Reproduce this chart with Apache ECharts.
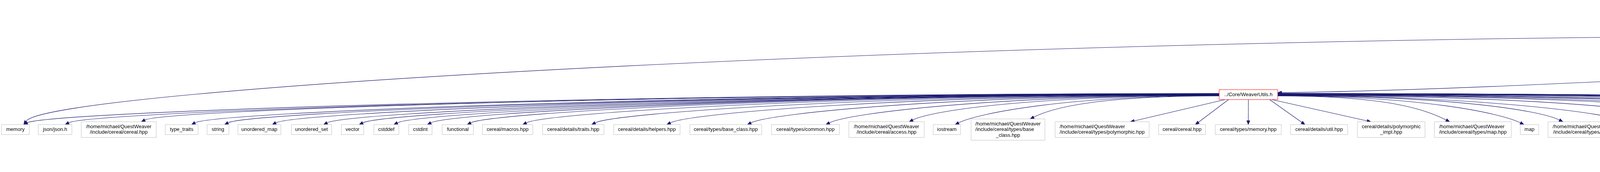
<!DOCTYPE html>
<html>
<head>
<meta charset="utf-8">
<title>WorldListener.h include graph</title>
<script src="https://cdn.jsdelivr.net/npm/echarts@6/dist/echarts.min.js"></script>
<style>
html, body { margin: 0; padding: 0; background: #ffffff; }
#graph { width: 6899px; height: 440px; }
</style>
</head>
<body>
<div id="graph"></div>
<script>
// ---- graph data: files per level, in drawing order ----
let levelNodes = [
	['include/World/WorldListener.h'],
	['WorldModelAction.h'],
	['MetaData.h', 'WorldEntity.h'],
	['../Core/WeaverUtils.h', 'cereal.h'],
	[
		'memory',
		'json/json.h',
		'/home/michael/QuestWeaver\n/include/cereal/cereal.hpp',
		'type_traits',
		'string',
		'unordered_map',
		'unordered_set',
		'vector',
		'cstddef',
		'cstdint',
		'functional',
		'cereal/macros.hpp',
		'cereal/details/traits.hpp',
		'cereal/details/helpers.hpp',
		'cereal/types/base_class.hpp',
		'cereal/types/common.hpp',
		'/home/michael/QuestWeaver\n/include/cereal/access.hpp',
		'iostream',
		'/home/michael/QuestWeaver\n/include/cereal/types/base\n_class.hpp',
		'/home/michael/QuestWeaver\n/include/cereal/types/polymorphic.hpp',
		'cereal/cereal.hpp',
		'cereal/types/memory.hpp',
		'cereal/details/util.hpp',
		'cereal/details/polymorphic\n_impl.hpp',
		'/home/michael/QuestWeaver\n/include/cereal/types/map.hpp',
		'map',
		'/home/michael/QuestWeaver\n/include/cereal/types/set.hpp',
		'set',
		'/home/michael/QuestWeaver\n/include/cereal/types/unordered\n_map.hpp',
		'/home/michael/QuestWeaver\n/include/cereal/types/unordered\n_set.hpp',
		'/home/michael/QuestWeaver\n/include/cereal/types/vector.hpp',
		'/home/michael/QuestWeaver\n/include/cereal/types/memory.hpp',
		'cstring',
		'/home/michael/QuestWeaver\n/include/cereal/types/string.hpp',
		'/home/michael/QuestWeaver\n/include/cereal/archives\n/json.hpp',
		'cereal/external/rapidjson\n/prettywriter.h',
		'cereal/external/rapidjson\n/genericstream.h',
		'cereal/external/rapidjson\n/reader.h',
		'cereal/external/rapidjson\n/document.h',
		'cereal/external/base64.hpp',
		'limits',
		'../Core/WeaverTypes.h'
	],
	['random', '../cereal.h']
];

// include edges [from, to]
let directIncludes = [
	['include/World/WorldListener.h', 'WorldModelAction.h'],
	['WorldModelAction.h', 'memory'],
	['WorldModelAction.h', 'MetaData.h'],
	['WorldModelAction.h', 'cereal.h'],
	['WorldModelAction.h', 'WorldEntity.h'],
	['MetaData.h', '../Core/WeaverUtils.h'],
	['MetaData.h', 'cereal.h'],
	['MetaData.h', '../Core/WeaverTypes.h'],
	['WorldEntity.h', 'cereal.h'],
	['WorldEntity.h', '../Core/WeaverTypes.h'],
	['../Core/WeaverTypes.h', 'random'],
	['../Core/WeaverTypes.h', '../cereal.h']
];
let utilsIncludes = levelNodes[4];

let documentedNodes = ['include/World/WorldListener.h', 'WorldModelAction.h', 'MetaData.h', 'WorldEntity.h', '../Core/WeaverTypes.h'];
let truncatedNodes = ['../Core/WeaverUtils.h'];
let rootNode = 'include/World/WorldListener.h';

// ---- layout (pixels) ----
let levelY = [19, 93.5, 167.5, 242, 331.5, 420.5];
let levelLeft = [
	[4911], [4939], [4922, 5088], [3121, 5016],
	[4, 98, 208, 423, 530, 609, 746, 874, 957, 1046, 1132, 1235, 1389, 1571, 1766, 1975, 2173, 2389, 2486, 2701,
	 2966, 3111, 3304, 3475, 3672, 3892, 3963, 4178, 4243, 4469, 4697, 4927, 5162, 5256, 5483, 5699, 5885, 6072, 6259, 6445,
	 6648, 6725],
	[6724, 6814]
];
let levelRight = [
	[5107], [5079], [5013, 5189], [3271, 5084],
	[75, 184, 400, 507, 586, 719, 849, 931, 1021, 1106, 1212, 1364, 1546, 1741, 1950, 2149, 2366, 2459, 2675, 2942,
	 3086, 3280, 3450, 3648, 3869, 3939, 4154, 4218, 4444, 4670, 4902, 5137, 5233, 5459, 5674, 5866, 6050, 6235, 6421, 6624,
	 6700, 6884],
	[6788, 6893]
];

const FONT = '13px "Liberation Sans", Arial, Helvetica, sans-serif';
const EDGECOLOR = '#191970';
const LINEGAP = 14.5;

let measureCtx = document.createElement('canvas').getContext('2d');
measureCtx.font = FONT;

// flatten nodes
let nodes = [];
let nodeIndex = {};
levelNodes.forEach((names, lv) => {
	names.forEach((name, k) => {
		let lines = name.split('\n');
		let h = 11 + LINEGAP * lines.length;
		let box = {
			name: name,
			lines: lines,
			left: levelLeft[lv][k],
			right: levelRight[lv][k],
			cy: levelY[lv],
			top: levelY[lv] - h / 2,
			bottom: levelY[lv] + h / 2
		};
		box.cx = (box.left + box.right) / 2;
		box.w = box.right - box.left;
		nodeIndex[name] = nodes.length;
		nodes.push(box);
	});
});

let edges = directIncludes.concat(utilsIncludes.map(n => ['../Core/WeaverUtils.h', n]));

function clamp(v, lo, hi) { return Math.max(lo, Math.min(hi, v)); }
function lerp(a, b, t) { return [a[0] + (b[0] - a[0]) * t, a[1] + (b[1] - a[1]) * t]; }

function edgePath(e) {
	let S = nodes[nodeIndex[e[0]]];
	let T = nodes[nodeIndex[e[1]]];
	let dx = T.cx - S.cx;
	let dir = dx >= 0 ? 1 : -1;
	let p0, p3, c1, c2;
	if (e[0] === 'MetaData.h' && e[1] === '../Core/WeaverUtils.h') {
		p0 = [S.left, S.cy + 3];
		p3 = [T.right, T.cy - 5];
		c1 = [p0[0] - 500, p0[1] + 20];
		c2 = [p3[0] + 500, p3[1] - 6];
	} else if (e[0] === 'MetaData.h' && e[1] === '../Core/WeaverTypes.h') {
		p0 = [S.cx - 2, S.bottom];
		p3 = [T.left + 30, T.top];
		c1 = [p0[0] + 10, p0[1] + 110];
		c2 = [p3[0] - 500, p3[1] - 60];
	} else {
		let ex = T.cx + clamp(-dx * 0.2, -T.w * 0.3, T.w * 0.3);
		p3 = [ex, T.top];
		if (Math.abs(dx) > 420) {
			let far = Math.min(Math.abs(dx) / 3200, 1);
			p0 = [dir > 0 ? S.right : S.left, S.cy + 5 - 8 * far];
			let dy = p3[1] - p0[1];
			c1 = [p0[0] + dx * 0.5, p0[1]];
			c2 = [p3[0] - dir * Math.min(Math.abs(dx) * 0.3, 60), p3[1] - Math.max(30, dy * 0.4)];
		} else {
			let sx = S.cx + clamp(dx * 0.3, -S.w * 0.4, S.w * 0.4);
			p0 = [sx, S.bottom];
			c1 = lerp(p0, p3, 1 / 3);
			c2 = lerp(p0, p3, 2 / 3);
		}
	}
	return [p0, c1, c2, p3];
}

let edgePaths = edges.map(edgePath);

let myChart = echarts.init(document.getElementById('graph'), null, { renderer: 'canvas' });

option = {
	animation: false,
	backgroundColor: '#ffffff',
	grid: { left: 0, right: 0, top: 0, bottom: 0 },
	xAxis: { type: 'value', min: 0, max: 6899, show: false },
	yAxis: { type: 'value', min: 0, max: 440, inverse: true, show: false },
	series: [
		{
			name: 'includes',
			type: 'custom',
			coordinateSystem: 'cartesian2d',
			silent: true,
			z: 1,
			data: edgePaths.map(p => [p[0][0], p[0][1]]),
			renderItem: function (params, api) {
				let pts = edgePaths[params.dataIndex].map(p => api.coord(p));
				let tip = pts[3];
				let ddx = tip[0] - pts[2][0];
				let ddy = tip[1] - pts[2][1];
				let len = Math.sqrt(ddx * ddx + ddy * ddy) || 1;
				ddx /= len; ddy /= len;
				let base = [tip[0] - ddx * 10, tip[1] - ddy * 10];
				return {
					type: 'group',
					children: [
						{
							type: 'bezierCurve',
							shape: {
								x1: pts[0][0], y1: pts[0][1],
								cpx1: pts[1][0], cpy1: pts[1][1],
								cpx2: pts[2][0], cpy2: pts[2][1],
								x2: base[0], y2: base[1]
							},
							style: { stroke: EDGECOLOR, fill: null, lineWidth: 1.1 }
						},
						{
							type: 'polygon',
							shape: {
								points: [
									tip,
									[base[0] - ddy * 4, base[1] + ddx * 4],
									[base[0] + ddy * 4, base[1] - ddx * 4]
								]
							},
							style: { fill: EDGECOLOR, stroke: EDGECOLOR, lineWidth: 1 }
						}
					]
				};
			}
		},
		{
			name: 'files',
			type: 'custom',
			coordinateSystem: 'cartesian2d',
			silent: true,
			z: 2,
			data: nodes.map(n => [n.cx, n.cy]),
			renderItem: function (params, api) {
				let n = nodes[params.dataIndex];
				let a = api.coord([n.left, n.top]);
				let b = api.coord([n.right, n.bottom]);
				let stroke = '#bfbfbf';
				if (documentedNodes.indexOf(n.name) >= 0) stroke = '#000000';
				if (truncatedNodes.indexOf(n.name) >= 0) stroke = '#ff0000';
				let children = [{
					type: 'rect',
					shape: { x: a[0], y: a[1], width: b[0] - a[0], height: b[1] - a[1] },
					style: {
						fill: n.name === rootNode ? '#bfbfbf' : '#ffffff',
						stroke: stroke,
						lineWidth: 1
					}
				}];
				let maxW = 0;
				n.lines.forEach(l => { maxW = Math.max(maxW, measureCtx.measureText(l).width); });
				let c = api.coord([n.cx, n.cy]);
				let blockLeft = c[0] - maxW / 2;
				n.lines.forEach((l, i) => {
					let last = i === n.lines.length - 1;
					let y = c[1] + (i - (n.lines.length - 1) / 2) * LINEGAP;
					children.push({
						type: 'text',
						style: {
							text: l,
							x: last ? c[0] : blockLeft,
							y: y,
							font: FONT,
							fill: '#000000',
							align: last ? 'center' : 'left',
							verticalAlign: 'middle'
						}
					});
				});
				return { type: 'group', children: children };
			}
		}
	]
};

myChart.setOption(option);
</script>
</body>
</html>
